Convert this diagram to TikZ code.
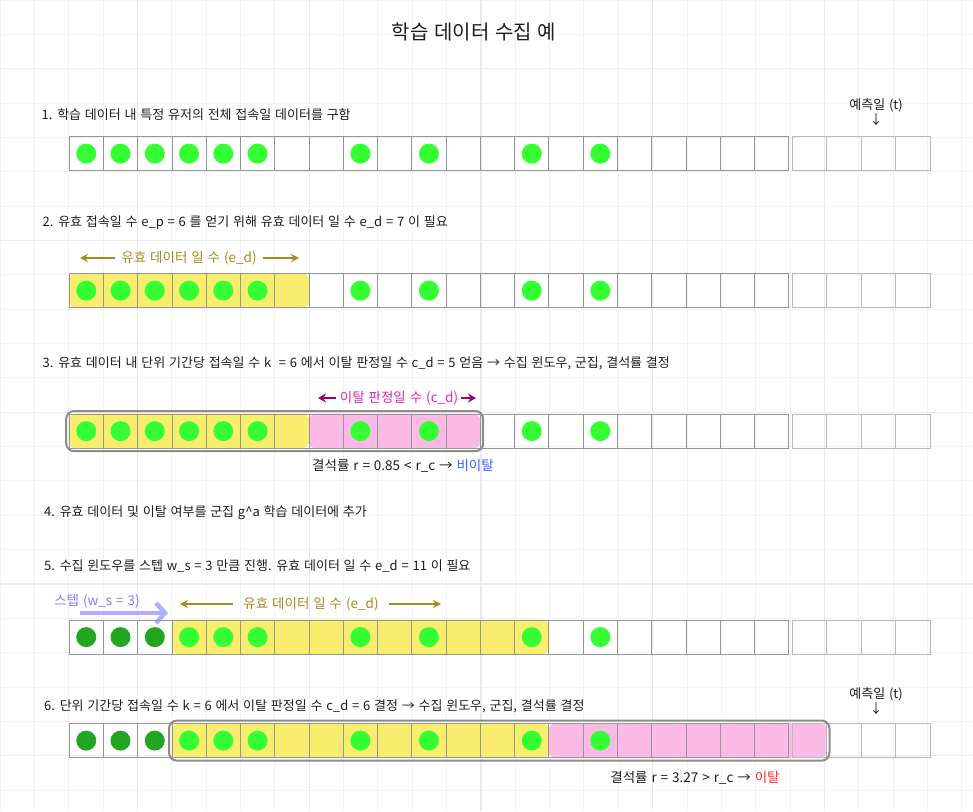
\documentclass[tikz,border=0pt]{standalone}
\usepackage{fontspec}
\setmainfont{Noto Sans CJK KR}[WordSpace={1.3,0.5,0.3}]
\usetikzlibrary{arrows.meta,fit}

\definecolor{gridminor}{RGB}{243,243,243}
\definecolor{gridmajor}{RGB}{234,234,234}
\definecolor{cellgray}{RGB}{150,150,150}
\definecolor{tcellgray}{RGB}{185,185,185}
\definecolor{dotgreen}{RGB}{51,255,51}
\definecolor{olddot}{RGB}{34,166,34}
\definecolor{hlyellow}{RGB}{248,237,108}
\definecolor{hlpink}{RGB}{251,186,230}
\definecolor{winline}{RGB}{140,140,140}
\definecolor{olive}{RGB}{166,140,32}
\definecolor{plum}{RGB}{153,0,110}
\definecolor{pinktext}{RGB}{232,40,170}
\definecolor{stepblue}{RGB}{128,128,255}
\definecolor{steparr}{RGB}{175,175,255}
\definecolor{okblue}{RGB}{51,102,255}
\definecolor{outred}{RGB}{255,51,51}
\definecolor{ink}{RGB}{30,30,30}

\pgfdeclarelayer{gridlayer}
\pgfdeclarelayer{hl}
\pgfsetlayers{gridlayer,hl,main}

\tikzset{
  cellbox/.style={draw=cellgray, line width=0.8pt, minimum width=34.27pt,
    minimum height=34.4pt, inner sep=0pt, anchor=north west},
  tcellbox/.style={cellbox, draw=tcellgray, minimum width=34.5pt},
  hlbox/.style={inner sep=0pt, rounded corners=8pt, draw=none},
  winbox/.style={inner sep=2.5pt, rounded corners=8pt, draw=winline, line width=2pt},
  steptext/.style={anchor=west, inner sep=0pt, text=ink, font=\fontsize{13}{15}\selectfont},
  smalltext/.style={inner sep=0pt, text=ink, font=\fontsize{13}{15}\selectfont, align=center},
  labeltext/.style={inner sep=0pt, font=\fontsize{13.5}{15}\selectfont},
  olivearrow/.style={draw=olive, line width=1.8pt, -{Stealth[length=8pt,width=8pt]}},
  plumarrow/.style={draw=plum, line width=2.4pt, -{Stealth[length=8pt,width=9pt]}},
  steparrow/.style={draw=steparr, line width=4.5pt, -{Straight Barb[length=9pt,width=20pt,line width=4.5pt]}}
}

% one row of days: 21 data cells and 4 cells up to the prediction day
\newcommand{\drawrow}[2]{%
  \foreach \i in {0,...,20}
    \node[cellbox] (#1c\i) at ({68.7+34.27*\i},#2) {};
  \foreach \j in {0,...,3}
    \node[tcellbox] (#1t\j) at ({791.7+34.5*\j},#2) {};
}
\newcommand{\putdots}[3]{%
  \foreach \i in {#2}
    \fill[#3] (#1c\i) circle (10pt);
}

\begin{document}
\begin{tikzpicture}[x=1pt,y=-1pt]
\useasboundingbox (0,0) rectangle (973,811);

% background grid
\begin{pgfonlayer}{gridlayer}
\fill[white] (0,0) rectangle (973,811);
\foreach \k in {0,...,28}
  \draw[gridminor, line width=1pt] (34.35*\k,0) -- (34.35*\k,811);
\foreach \k in {0,...,23}
  \draw[gridminor, line width=1pt] (0,34.35*\k) -- (973,34.35*\k);
\foreach \k in {4,9,14,19,24}
  \draw[gridmajor, line width=1.3pt] (34.35*\k,0) -- (34.35*\k,811);
\foreach \k in {2,7,12,17,22}
  \draw[gridmajor, line width=1.3pt] (0,34.35*\k) -- (973,34.35*\k);
\end{pgfonlayer}

\node[text=ink, font=\fontsize{20}{22}\selectfont] (title) at (474,32) {학습 데이터 수집 예};

% step 1
\node[steptext] (s1) at (41.5,115) {1. 학습 데이터 내 특정 유저의 전체 접속일 데이터를 구함};
\node[smalltext] (pd1) at (876,112) {예측일 (t)\\↓};
\drawrow{r1}{136}
\putdots{r1}{0,...,5,8,10,13,15}{dotgreen}

% step 2
\node[steptext] (s2) at (42.5,223) {2. 유효 접속일 수 e\_p = 6 를 얻기 위해 유효 데이터 일 수 e\_d = 7 이 필요};
\node[labeltext, text=olive] (ed2) at (189,258) {유효 데이터 일 수 (e\_d)};
\coordinate (ed2l) at (80,258);
\coordinate (ed2r) at (299,258);
\draw[olivearrow] ([xshift=-6pt]ed2.west) -- (ed2l);
\draw[olivearrow] ([xshift=6pt]ed2.east) -- (ed2r);
\drawrow{r2}{273}
\begin{pgfonlayer}{hl}
\node[hlbox, fill=hlyellow, fit=(r2c0)(r2c6)] (hl2) {};
\end{pgfonlayer}
\putdots{r2}{0,...,5,8,10,13,15}{dotgreen}

% step 3
\node[steptext] (s3) at (42.5,363) {3. 유효 데이터 내 단위 기간당 접속일 수 k~ = 6 에서 이탈 판정일 수 c\_d = 5 얻음 → 수집 윈도우, 군집, 결석률 결정};
\node[labeltext, text=pinktext] (cd3) at (399,398) {이탈 판정일 수 (c\_d)};
\coordinate (cd3l) at (318,398);
\coordinate (cd3r) at (476,398);
\draw[plumarrow] ([xshift=-4pt]cd3.west) -- (cd3l);
\draw[plumarrow] ([xshift=3pt]cd3.east) -- (cd3r);
\drawrow{r3}{413.5}
\begin{pgfonlayer}{hl}
\node[hlbox, fill=hlyellow, fit=(r3c0)(r3c6)] (hl3a) {};
\node[hlbox, fill=hlpink, fit=(r3c7)(r3c11)] (hl3b) {};
\end{pgfonlayer}
\node[winbox, fit=(r3c0)(r3c11)] (win3) {};
\putdots{r3}{0,...,5,8,10,13,15}{dotgreen}
\node[labeltext, text=ink] (res3) at (403,466) {결석률 r = 0.85 < r\_c → \textcolor{okblue}{비이탈}};

% step 4
\node[steptext] (s4) at (44,513) {4. 유효 데이터 및 이탈 여부를 군집 g\textasciicircum a 학습 데이터에 추가};

% step 5
\node[steptext] (s5) at (44,566) {5. 수집 윈도우를 스텝 w\_s = 3 만큼 진행. 유효 데이터 일 수 e\_d = 11 이 필요};
\node[labeltext, text=stepblue] (ws5) at (97,601) {스텝 (w\_s = 3)};
\coordinate (st0) at (80,613);
\coordinate (st1) at (168,613);
\draw[steparrow] (st0) -- (st1);
\node[labeltext, text=olive] (ed5) at (311,604) {유효 데이터 일 수 (e\_d)};
\coordinate (ed5l) at (180,604);
\coordinate (ed5r) at (441,604);
\draw[olivearrow] ([xshift=-10pt]ed5.west) -- (ed5l);
\draw[olivearrow] ([xshift=10pt]ed5.east) -- (ed5r);
\drawrow{r5}{619.5}
\begin{pgfonlayer}{hl}
\node[hlbox, fill=hlyellow, fit=(r5c3)(r5c13)] (hl5) {};
\end{pgfonlayer}
\putdots{r5}{0,1,2}{olddot}
\putdots{r5}{3,4,5,8,10,13,15}{dotgreen}

% step 6
\node[steptext] (s6) at (44,706) {6. 단위 기간당 접속일 수 k = 6 에서 이탈 판정일 수 c\_d = 6 결정 → 수집 윈도우, 군집, 결석률 결정};
\node[smalltext] (pd6) at (876,701) {예측일 (t)\\↓};
\drawrow{r6}{723}
\begin{pgfonlayer}{hl}
\node[hlbox, fill=hlyellow, fit=(r6c3)(r6c13)] (hl6a) {};
\node[hlbox, fill=hlpink, fit=(r6c14)(r6t0)] (hl6b) {};
\end{pgfonlayer}
\node[winbox, fit=(r6c3)(r6t0)] (win6) {};
\putdots{r6}{0,1,2}{olddot}
\putdots{r6}{3,4,5,8,10,13,15}{dotgreen}
\node[labeltext, text=ink] (res6) at (695,778) {결석률 r = 3.27 > r\_c → \textcolor{outred}{이탈}};
\end{tikzpicture}
\end{document}
